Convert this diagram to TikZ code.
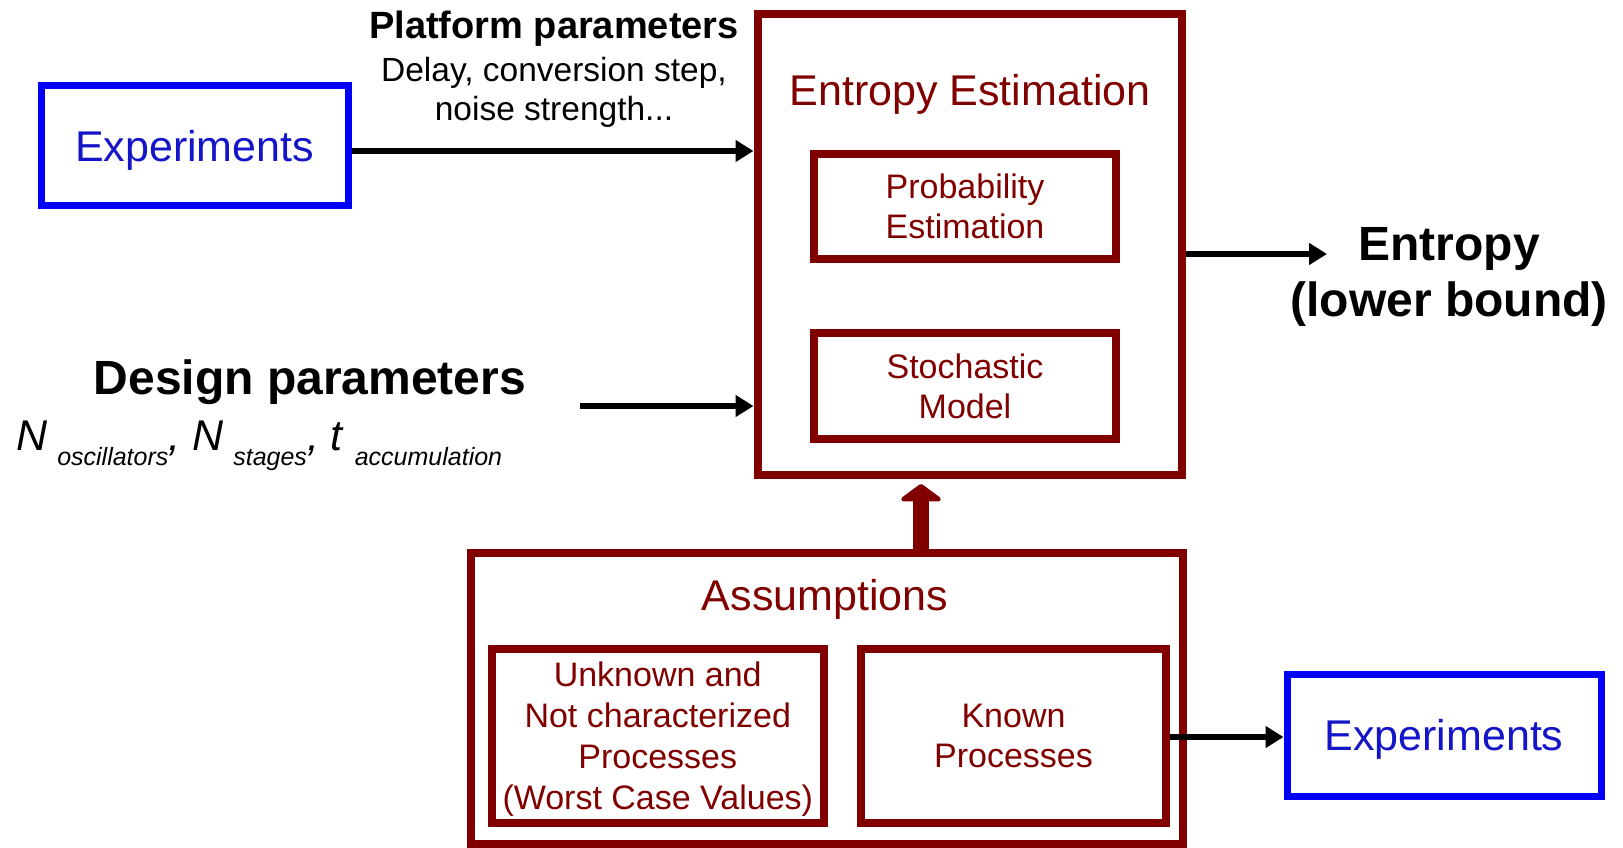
\documentclass[tikz,border=0pt]{standalone}
\usepackage{fontspec}
\setmainfont{Liberation Sans}
\usetikzlibrary{arrows.meta,calc}
\definecolor{darkred}{RGB}{128,0,0}
\definecolor{expblue}{RGB}{0,0,250}
\definecolor{exptext}{RGB}{20,20,200}
\begin{document}
\begin{tikzpicture}[x=1pt,y=-1pt,
  box/.style={draw=darkred, line width=8pt, inner sep=0pt, text=darkred, align=center},
  expbox/.style={draw=expblue, line width=7pt, inner sep=0pt, text=exptext,
    text height=31pt, text depth=0pt, font=\fontsize{43}{50}\selectfont},
  small/.style={font=\fontsize{34}{40}\selectfont},
  big/.style={font=\fontsize{43}{50}\selectfont},
  flow/.style={line width=6.5pt, -{Triangle[length=18pt,width=21pt]}},
  lift/.style={draw=darkred, line width=16pt, -{Triangle[length=18pt,width=48pt,round]}},
]
\useasboundingbox (0,0) rectangle (1623,848);

% inputs on the left
\node[expbox, minimum width=307pt, minimum height=119pt] (exp1) at (194.5,145.5) {Experiments};
\node[font=\fontsize{38}{44}\selectfont\bfseries] (plattitle) at (554,29) {Platform parameters};
\node[align=center, font=\fontsize{33.5}{39}\selectfont] (platdesc) at (554,92)
  {Delay, conversion step,\\noise strength...};
\node[font=\fontsize{48}{56}\selectfont\bfseries] (designtitle) at (310,382) {Design parameters};
\node[anchor=base west, inner sep=0pt, font=\fontsize{43}{50}\selectfont\itshape] (designvars) at (16,450)
  {N\hspace{10pt}\raisebox{-15pt}{\fontsize{25}{30}\selectfont oscillators},\ %
   N\hspace{10pt}\raisebox{-15pt}{\fontsize{25}{30}\selectfont stages},\ %
   t\hspace{12pt}\raisebox{-15pt}{\fontsize{25}{30}\selectfont accumulation}};

% entropy estimation block
\node[box, minimum width=424.5pt, minimum height=461pt] (ent) at (969.75,244.5) {};
\node[big, text=darkred] (enttitle) at (970,94) {Entropy Estimation};
\node[box, small, minimum width=302pt, minimum height=105pt] (prob) at (965,206.5) {Probability\\Estimation};
\node[box, small, minimum width=302pt, minimum height=106pt] (stoch) at (965,386) {Stochastic\\Model};

% output
\node[align=center, font=\fontsize{48}{56}\selectfont\bfseries] (entropy) at (1449,277) {Entropy\\(lower bound)};

% assumptions block
\node[box, minimum width=712pt, minimum height=291pt] (assump) at (827,698.5) {};
\node[big, text=darkred] (assumptitle) at (825,599) {Assumptions};
\node[box, minimum width=332.5pt, minimum height=174pt, text depth=0pt,
      font=\fontsize{34}{41}\selectfont] (unknown) at (657.75,736)
  {Unknown and\\Not characterized\\Processes\\(Worst Case Values)};
\node[box, small, minimum width=305pt, minimum height=174pt] (known) at (1013.5,736) {Known\\Processes};
\node[expbox, minimum width=314pt, minimum height=122pt] (exp2) at (1444,735) {Experiments};

% connectors
\coordinate (designstart) at (580,406);
\coordinate (entout) at (1327,254);
\coordinate (liftx) at (921,500);
\draw[flow] (exp1.east |- 0,151) -- (ent.west |- 0,151);
\draw[flow] (designstart) -- (designstart -| ent.west);
\draw[flow] (entout -| ent.east) -- (entout);
\draw[flow] (known.east |- 0,737) -- (exp2.west |- 0,737);
\draw[lift, shorten >=5pt] (liftx |- assump.north) -- (liftx |- ent.south);
\end{tikzpicture}
\end{document}
